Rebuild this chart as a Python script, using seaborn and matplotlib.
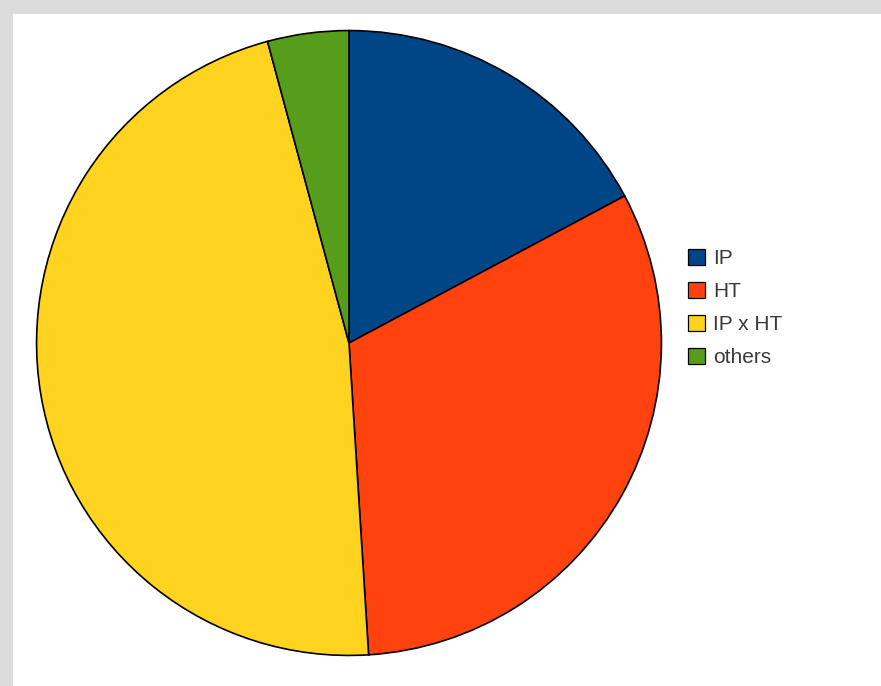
import matplotlib
matplotlib.use("Agg")
import matplotlib.pyplot as plt
from matplotlib.patches import Patch, Rectangle
import seaborn as sns

# data (share of the pie, in %)
labels = ["IP", "HT", "IP x HT", "others"]
shares = [17.2, 31.8, 46.8, 4.2]
colors = ["#004586", "#ff420e", "#ffd320", "#579d1c"]

sns.set_style("white")
plt.rcParams["font.family"] = ["Liberation Sans", "DejaVu Sans"]

W, H = 881, 686
fig = plt.figure(figsize=(W / 100, H / 100), dpi=100, facecolor="#dcdcdc")

# white plot area, grey band only on top and left
fig.patches.append(Rectangle((13 / W, 0), 1, (H - 14) / H, transform=fig.transFigure,
                             facecolor="white", edgecolor="none", zorder=-5))

cx, cy, r = 349, 343, 314
ax = fig.add_axes([(cx - r) / W, (H - cy - r) / H, 2 * r / W, 2 * r / H])
ax.patch.set_alpha(0)
ax.pie(shares, colors=sns.color_palette(colors), startangle=90, counterclock=False,
       radius=1, wedgeprops=dict(edgecolor="black", linewidth=1.2))
ax.set_xlim(-1.005, 1.005)
ax.set_ylim(-1.005, 1.005)
ax.set_axis_off()

handles = [Patch(facecolor=c, edgecolor="black", linewidth=0.9) for c in colors]
leg = fig.legend(handles, labels, loc="upper left", bbox_to_anchor=(688 / W, 1 - 249 / H),
                 frameon=False, fontsize=15, handlelength=0.8, handleheight=0.8,
                 handletextpad=0.4, labelspacing=0.66, borderpad=0, borderaxespad=0)
for t in leg.get_texts():
    t.set_color("#3a3a3a")

fig.savefig("out.png", dpi=100, facecolor=fig.get_facecolor())
